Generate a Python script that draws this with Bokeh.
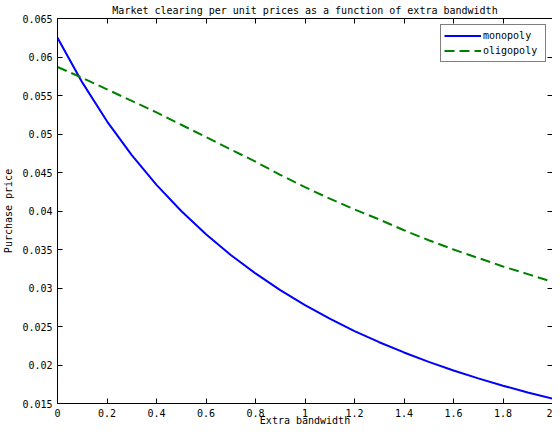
from bokeh.plotting import figure
from bokeh.models import LinearAxis, FixedTicker, Range1d, Legend, LegendItem
from bokeh.embed import file_html
from bokeh.resources import INLINE

# ---- data ----
bandwidth = [0.0, 0.1, 0.2, 0.3, 0.4, 0.5, 0.6, 0.7, 0.8, 0.9, 1.0,
             1.1, 1.2, 1.3, 1.4, 1.5, 1.6, 1.7, 1.8, 1.9, 2.0]
monopoly = [0.0625, 0.0567, 0.05165, 0.04726, 0.0434, 0.0400, 0.03698, 0.03429,
            0.03189, 0.02973, 0.02778, 0.02601, 0.02441, 0.02296, 0.02163,
            0.02041, 0.01929, 0.01826, 0.01731, 0.01644, 0.015625]
oligopoly = [0.0587, 0.0573, 0.0558, 0.0543, 0.0528, 0.0512, 0.0496, 0.0480,
             0.0464, 0.0447, 0.0431, 0.0416, 0.0402, 0.0389, 0.0375, 0.0362,
             0.0350, 0.0339, 0.0328, 0.0318, 0.0308]

x_ticks = [0, 0.2, 0.4, 0.6, 0.8, 1.0, 1.2, 1.4, 1.6, 1.8, 2.0]
x_tick_labels = ["0", "0.2", "0.4", "0.6", "0.8", "1", "1.2", "1.4", "1.6", "1.8", "2"]
y_ticks = [0.015, 0.02, 0.025, 0.03, 0.035, 0.04, 0.045, 0.05, 0.055, 0.06, 0.065]
y_tick_labels = ["0.015", "0.02", "0.025", "0.03", "0.035", "0.04", "0.045",
                 "0.05", "0.055", "0.06", "0.065"]

title_text = "Market clearing per unit prices as a function of extra bandwidth"
x_label = "Extra bandwidth"
y_label = "Purchase price"
series_names = ["monopoly", "oligopoly"]

FONT = "DejaVu Sans Mono"
FS = "10px"

p = figure(width=552, height=428, output_backend="svg", toolbar_location=None,
           x_range=Range1d(0, 2), y_range=Range1d(0.015, 0.065),
           x_axis_location=None, y_axis_location=None,
           min_border_left=57, min_border_right=0, min_border_top=0, min_border_bottom=0)

p.title.text = title_text
p.title.text_font = FONT
p.title.text_font_size = FS
p.title.text_font_style = "normal"
p.title.text_color = "black"
p.title.align = "center"
p.title.standoff = 5
p.title.offset = 0

p.grid.visible = False
p.outline_line_color = None
p.background_fill_color = "white"
p.border_fill_color = "white"

x_over = {t: l for t, l in zip(x_ticks, x_tick_labels)}
y_over = {t: l for t, l in zip(y_ticks, y_tick_labels)}


def style_axis(ax, labels):
    ax.axis_line_color = "black"
    ax.axis_line_width = 1
    ax.major_tick_in = 5
    ax.major_tick_out = 0
    ax.minor_tick_line_color = None
    ax.major_tick_line_color = "black"
    ax.major_label_text_font = FONT
    ax.major_label_text_font_size = FS
    ax.major_label_text_color = "black"
    ax.axis_label_text_font = FONT
    ax.axis_label_text_font_size = FS
    ax.axis_label_text_font_style = "normal"
    ax.axis_label_text_color = "black"
    if not labels:
        ax.major_label_text_font_size = "1px"
        ax.major_label_text_color = None
        ax.major_label_standoff = 0
        ax.axis_label_standoff = 0


xb = LinearAxis(ticker=FixedTicker(ticks=x_ticks), major_label_overrides=x_over,
                axis_label=x_label)
style_axis(xb, True)
xb.major_label_standoff = 5
xb.axis_label_standoff = -5
p.add_layout(xb, "below")

yl = LinearAxis(ticker=FixedTicker(ticks=y_ticks), major_label_overrides=y_over,
                axis_label=y_label)
style_axis(yl, True)
yl.major_label_standoff = 5
yl.axis_label_standoff = 5
p.add_layout(yl, "left")

xt = LinearAxis(ticker=FixedTicker(ticks=x_ticks))
style_axis(xt, False)
p.add_layout(xt, "above")

yr = LinearAxis(ticker=FixedTicker(ticks=y_ticks))
style_axis(yr, False)
p.add_layout(yr, "right")

r1 = p.line(bandwidth, monopoly, line_color="#0000ff", line_width=2)
r2 = p.line(bandwidth, oligopoly, line_color="#008000", line_width=2, line_dash="10 5")

legend = Legend(items=[LegendItem(label=series_names[0], renderers=[r1]),
                       LegendItem(label=series_names[1], renderers=[r2])],
                location="top_right")
legend.label_text_font = FONT
legend.label_text_font_size = FS
legend.label_text_color = "black"
legend.border_line_color = "black"
legend.border_line_width = 1
legend.background_fill_color = "white"
legend.background_fill_alpha = 1
legend.padding = 3
legend.spacing = 0
legend.margin = 6
legend.glyph_width = 37
legend.glyph_height = 15
legend.label_height = 15
legend.label_width = 59
legend.label_standoff = 2
p.add_layout(legend)

open("out.html", "w").write(file_html(p, INLINE))
